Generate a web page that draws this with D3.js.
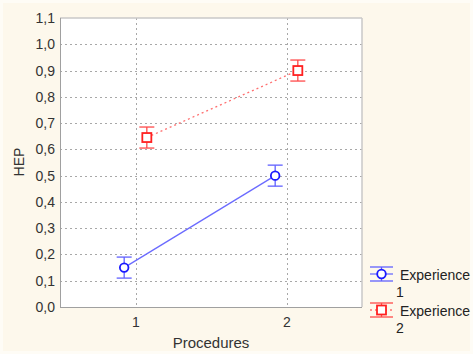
<!DOCTYPE html>
<html><head><meta charset="utf-8">
<script src="https://cdn.jsdelivr.net/npm/d3@7"></script>
<style>
html,body{margin:0;padding:0;background:#fff;}
svg{display:block;font-family:"Liberation Sans",Arial,sans-serif;}
</style></head>
<body>
<svg id="c" width="473" height="354"></svg>
<script>
const procedures = [1, 2];
const yTicks = [0.0,0.1,0.2,0.3,0.4,0.5,0.6,0.7,0.8,0.9,1.0,1.1];
const series1 = {name:"Experience", sub:"1", values:[0.15, 0.50], err:[0.04, 0.04]};
const series2 = {name:"Experience", sub:"2", values:[0.645, 0.90], err:[0.04, 0.04]};
const seriesList = [series1, series2];

const svg = d3.select("#c");
const W = 473, H = 354;
const L = 60, R = 362, T = 18, B = 307;

svg.append("rect").attr("x",0).attr("y",0).attr("width",W).attr("height",H).attr("fill","#fefcf6");
svg.append("rect").attr("x",3).attr("y",3).attr("width",W-6).attr("height",H-6).attr("fill","#fdf8ec");
svg.append("rect").attr("x",L).attr("y",T).attr("width",R-L).attr("height",B-T).attr("fill","#fff");

const x = d3.scaleLinear().domain([0.5, 2.5]).range([L, R]);
const y = d3.scaleLinear().domain([0, 1.1]).range([B, T]);

// grid
const g = svg.append("g");
g.selectAll(".hg").data(yTicks.filter(t => t > 0 && t < 1.1)).enter().append("line")
  .attr("x1", L).attr("x2", R).attr("y1", d => Math.round(y(d))+0.5).attr("y2", d => Math.round(y(d))+0.5)
  .attr("stroke","#a8a8a8").attr("stroke-dasharray","2,3").attr("stroke-width",1);
g.selectAll(".vg").data(procedures).enter().append("line")
  .attr("y1", T).attr("y2", B).attr("x1", d => Math.round(x(d))+0.5).attr("x2", d => Math.round(x(d))+0.5)
  .attr("stroke","#a8a8a8").attr("stroke-dasharray","2,3").attr("stroke-width",1);

// frame
svg.append("line").attr("x1",L).attr("x2",R).attr("y1",T).attr("y2",T).attr("stroke","#c8c8c8").attr("stroke-width",1.5);
svg.append("line").attr("x1",R).attr("x2",R).attr("y1",T).attr("y2",B).attr("stroke","#c8c8c8").attr("stroke-width",1.5);
svg.append("line").attr("x1",L+0.5).attr("x2",L+0.5).attr("y1",T).attr("y2",B).attr("stroke","#a0a0a0");
svg.append("line").attr("x1",L).attr("x2",R).attr("y1",B+0.5).attr("y2",B+0.5).attr("stroke","#a0a0a0");

// axes labels
const axY = svg.append("g").attr("transform",`translate(${L},0)`)
  .call(d3.axisLeft(y).tickValues(yTicks).tickSize(0).tickPadding(5).tickFormat(d => d3.format(".1f")(d).replace(".",",")));
axY.select(".domain").remove();
axY.selectAll("text").attr("font-size",14).attr("fill","#333").attr("font-family","Liberation Sans, Arial, sans-serif");

const axX = svg.append("g").attr("transform",`translate(0,${B})`)
  .call(d3.axisBottom(x).tickValues(procedures).tickSize(0).tickPadding(10).tickFormat(d3.format("d")));
axX.select(".domain").remove();
axX.selectAll("text").attr("font-size",14).attr("fill","#333").attr("font-family","Liberation Sans, Arial, sans-serif");

svg.append("text").attr("x",211).attr("y",348).attr("text-anchor","middle").attr("font-size",15).attr("fill","#333").text("Procedures");
svg.append("text").attr("transform","translate(24,162) rotate(-90)").attr("text-anchor","middle").attr("font-size",14).attr("fill","#333").text("HEP");

// series
const styles = [
  {off:-0.075, line:"#6b6bff", mark:"#1a1aff", err:"#6060ff", dash:null, shape:"circle"},
  {off: 0.075, line:"#ff7070", mark:"#ff2020", err:"#ff4a4a", dash:"2,3", shape:"square"}
];
const cap = 7.5;
seriesList.forEach((s, i) => {
  const st = styles[i];
  const pts = procedures.map((p, j) => ({x: x(p + st.off), y: y(s.values[j]), lo: y(s.values[j]-s.err[j]), hi: y(s.values[j]+s.err[j])}));
  const line = svg.append("path").attr("d", d3.line().x(d=>d.x).y(d=>d.y)(pts))
    .attr("fill","none").attr("stroke",st.line).attr("stroke-width",1.3);
  if (st.dash) line.attr("stroke-dasharray", st.dash);
  pts.forEach(p => {
    svg.append("line").attr("x1",p.x).attr("x2",p.x).attr("y1",p.lo).attr("y2",p.hi).attr("stroke",st.err).attr("stroke-width",1.3);
    svg.append("line").attr("x1",p.x-cap).attr("x2",p.x+cap).attr("y1",p.lo).attr("y2",p.lo).attr("stroke",st.err).attr("stroke-width",1.3);
    svg.append("line").attr("x1",p.x-cap).attr("x2",p.x+cap).attr("y1",p.hi).attr("y2",p.hi).attr("stroke",st.err).attr("stroke-width",1.3);
    if (st.shape === "circle") {
      svg.append("circle").attr("cx",p.x).attr("cy",p.y).attr("r",4.3).attr("fill","#fff").attr("stroke",st.mark).attr("stroke-width",1.8);
    } else {
      svg.append("rect").attr("x",p.x-4.5).attr("y",p.y-4.5).attr("width",9).attr("height",9).attr("fill","#fff").attr("stroke",st.mark).attr("stroke-width",1.8);
    }
  });
});

// legend
const legY = [274, 310];
seriesList.forEach((s, i) => {
  const st = styles[i];
  const cy = legY[i], x0 = 370, x1 = 393, cx = 381.5;
  const lg = svg.append("g");
  const l = lg.append("line").attr("x1",x0).attr("x2",x1).attr("y1",cy).attr("y2",cy).attr("stroke",st.line).attr("stroke-width",1.3);
  if (st.dash) l.attr("stroke-dasharray", st.dash);
  lg.append("line").attr("x1",x0).attr("x2",x1).attr("y1",cy-7).attr("y2",cy-7).attr("stroke",st.err).attr("stroke-width",1.3);
  lg.append("line").attr("x1",x0).attr("x2",x1).attr("y1",cy+7).attr("y2",cy+7).attr("stroke",st.err).attr("stroke-width",1.3);
  lg.append("line").attr("x1",cx).attr("x2",cx).attr("y1",cy-7).attr("y2",cy+7).attr("stroke",st.err).attr("stroke-width",1.3);
  if (st.shape === "circle") {
    lg.append("circle").attr("cx",cx).attr("cy",cy).attr("r",4.3).attr("fill","#fff").attr("stroke",st.mark).attr("stroke-width",1.8);
  } else {
    lg.append("rect").attr("x",cx-4.5).attr("y",cy-4.5).attr("width",9).attr("height",9).attr("fill","#fff").attr("stroke",st.mark).attr("stroke-width",1.8);
  }
  lg.append("text").attr("x",400).attr("y",cy+6).attr("font-size",14).attr("textLength",70).attr("fill","#222").text(s.name);
  lg.append("text").attr("x",396).attr("y",cy+23).attr("font-size",14).attr("fill","#222").text(s.sub);
});
</script>
</body></html>
